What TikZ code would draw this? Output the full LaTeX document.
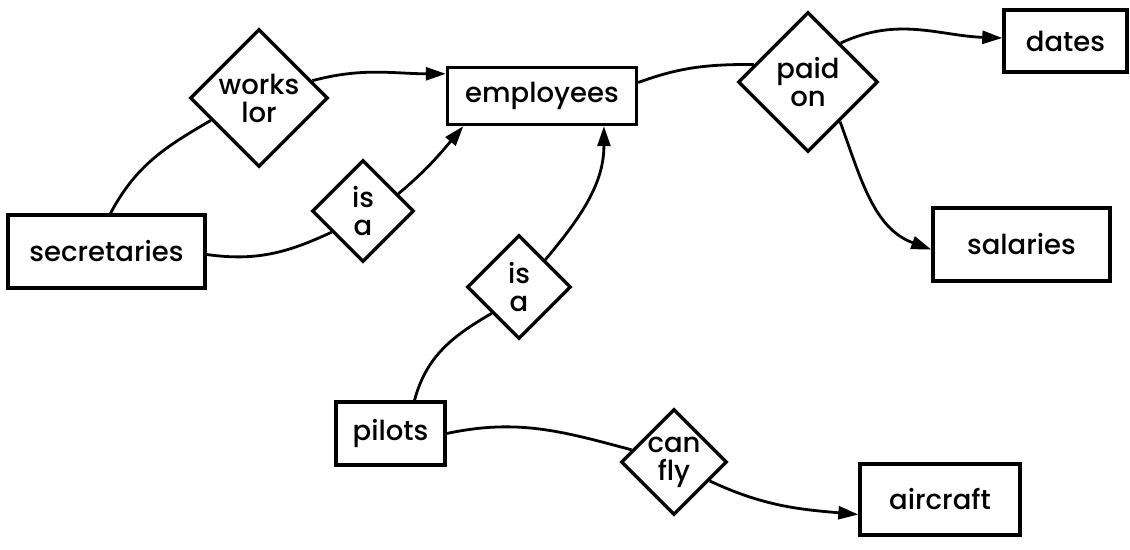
\documentclass[tikz,border=0pt]{standalone}
\usepackage{fontspec}
\setmainfont{Poppins}[BoldFont={Poppins Medium}]
\usetikzlibrary{shapes.geometric,arrows.meta}
\begin{document}
\begin{tikzpicture}[x=1pt,y=1pt,
  txt/.style={font=\fontsize{27.5}{28}\selectfont\bfseries},
  ent/.style={txt,draw,line width=3.4pt,inner sep=0pt},
  rel/.style={txt,draw,diamond,aspect=1,line width=3.4pt,inner sep=0pt,align=center},
  link/.style={line width=2.8pt},
  arr/.style={link,-{Triangle[length=20pt,width=13pt]}}]
\useasboundingbox (0,0) rectangle (1130,-549);
% entities
\node[ent,minimum width=189pt,minimum height=57pt] (emp) at (542,-96) {employees};
\node[ent,minimum width=123pt,minimum height=62pt] (dates) at (1065.5,-41) {dates};
\node[ent,minimum width=177pt,minimum height=73pt] (sal) at (1021.5,-244.5) {salaries};
\node[ent,minimum width=197pt,minimum height=73pt] (sec) at (106.5,-251.5) {secretaries};
\node[ent,minimum width=109pt,minimum height=63pt] (pil) at (390.5,-433.5) {pilots};
\node[ent,minimum width=160pt,minimum height=71pt] (air) at (940,-499.5) {aircraft};
% relationships
\node[rel,minimum width=138pt,minimum height=138pt] (wl) at (259,-98) {works\\lor};
\node[rel,minimum width=102pt,minimum height=102pt] (isa1) at (363,-211) {is\\a};
\node[rel,minimum width=104pt,minimum height=104pt] (isa2) at (519,-287) {is\\a};
\node[rel,minimum width=140pt,minimum height=140pt] (paid) at (808,-82) {paid\\on};
\node[rel,minimum width=106pt,minimum height=106pt] (can) at (674,-462) {can\\fly};
% connectors
\draw[link] ([xshift=4pt]sec.north) to[out=62,in=-150] (wl.-155);
\draw[arr] (wl.18) to[out=15,in=180] (emp.167);
\draw[link] ([yshift=-3pt]sec.east) to[out=-8,in=-155] (isa1.-146);
\draw[arr] (isa1.26) to[out=40,in=-130] (emp.-159);
\draw[link] ([xshift=24pt]pil.north) to[out=75,in=-150] (isa2.-136);
\draw[arr] (isa2.46) to[out=50,in=-90] (emp.-26);
\draw[link] (emp.8) to[out=20,in=180] (paid.162);
\draw[arr] (paid.50) to[out=25,in=178] ([yshift=3pt]dates.west);
\draw[arr] (paid.-51) to[out=-70,in=160] ([yshift=-5pt]sal.west);
\draw[link] (pil.east) to[out=12,in=165] (can.164);
\draw[arr] (can.-28) to[out=-25,in=175] ([yshift=-15pt]air.west);
\end{tikzpicture}
\end{document}
